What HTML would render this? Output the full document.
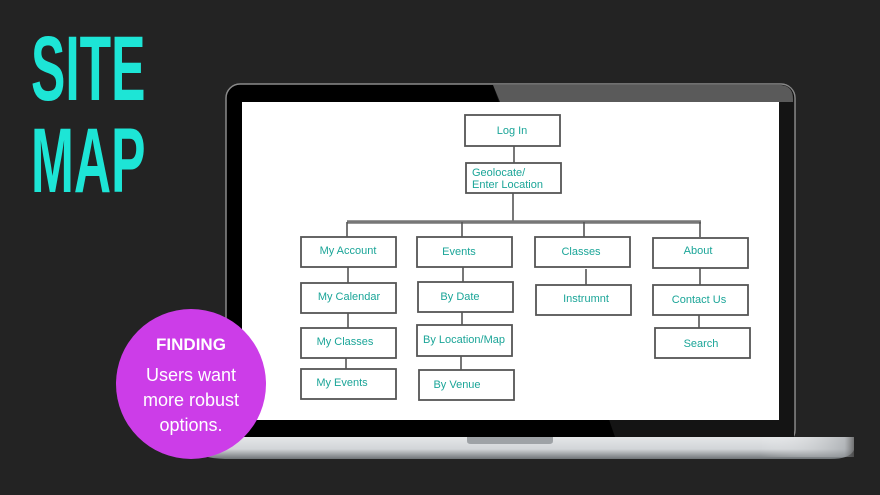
<!DOCTYPE html>
<html><head><meta charset="utf-8"><style>
html,body{margin:0;padding:0;background:#232323;}
svg{display:block}
</style></head><body>
<svg width="880" height="495" viewBox="0 0 880 495" xmlns="http://www.w3.org/2000/svg">
<defs>
<linearGradient id="base" x1="0" y1="0" x2="0" y2="1">
<stop offset="0" stop-color="#e4e6e8"/><stop offset="0.55" stop-color="#d2d5d8"/><stop offset="1" stop-color="#6f7477"/>
</linearGradient>
<linearGradient id="baseR" x1="0" y1="0" x2="1" y2="0">
<stop offset="0" stop-color="#fff" stop-opacity="0"/><stop offset="0.9" stop-color="#9a9ea2" stop-opacity="0.6"/><stop offset="1" stop-color="#555" stop-opacity="0.8"/>
</linearGradient>
</defs>
<rect width="880" height="495" fill="#232323"/>
<rect x="226" y="84" width="569" height="360" rx="14" fill="#000" stroke="#8a8a8a" stroke-width="1.5"/>
<path d="M493 85 L780 85 Q794 85 794 99 L794 437 L615 437 Z" fill="#141414"/>
<path d="M493 85 L781 85 Q793 86 793 99 L793 102 L500 102 Z" fill="#5a5a5a"/>
<rect x="242" y="102" width="537" height="318" fill="#fff"/>
<path d="M195 437 L854 437 L854 450 Q850 459 830 459 L225 459 Q200 458 195 450 Z" fill="url(#base)"/>
<rect x="760" y="437" width="94" height="20" fill="url(#baseR)"/>
<path d="M467 437 L553 437 L553 441 Q553 444 549 444 L471 444 Q467 444 467 441 Z" fill="#9ea2a6"/>
<g stroke="#555" stroke-width="1.6" fill="none">
<line x1="514" y1="146" x2="514" y2="163"/>
<line x1="513" y1="193" x2="513" y2="222"/>
<line x1="347" y1="222" x2="701" y2="222" stroke="#777" stroke-width="3.5"/>
<line x1="347" y1="222" x2="347" y2="237"/>
<line x1="462" y1="222" x2="462" y2="237"/>
<line x1="584" y1="222" x2="584" y2="237"/>
<line x1="700" y1="222" x2="700" y2="237"/>
<line x1="348" y1="267" x2="348" y2="283"/>
<line x1="348" y1="313" x2="348" y2="328"/>
<line x1="346" y1="358" x2="346" y2="369"/>
<line x1="463" y1="267" x2="463" y2="282"/>
<line x1="462" y1="312" x2="462" y2="325"/>
<line x1="461" y1="356" x2="461" y2="370"/>
<line x1="586" y1="269" x2="586" y2="285"/>
<line x1="700" y1="268" x2="700" y2="285"/>
<line x1="699" y1="315" x2="699" y2="328"/>
</g>
<g fill="#fff" stroke="#555" stroke-width="1.8">
<rect x="465" y="115" width="95" height="31"/>
<rect x="466" y="163" width="95" height="30"/>
<rect x="301" y="237" width="95" height="30"/>
<rect x="301" y="283" width="95" height="30"/>
<rect x="301" y="328" width="95" height="30"/>
<rect x="301" y="369" width="95" height="30"/>
<rect x="417" y="237" width="95" height="30"/>
<rect x="418" y="282" width="95" height="30"/>
<rect x="417" y="325" width="95" height="31"/>
<rect x="419" y="370" width="95" height="30"/>
<rect x="535" y="237" width="95" height="30"/>
<rect x="536" y="285" width="95" height="30"/>
<rect x="653" y="238" width="95" height="30"/>
<rect x="653" y="285" width="95" height="30"/>
<rect x="655" y="328" width="95" height="30"/>
</g>
<g font-family="Liberation Sans, sans-serif" font-size="11" fill="#1ba598" text-anchor="middle">
<text x="512" y="134">Log In</text>
<text x="472" y="176" text-anchor="start">Geolocate/</text>
<text x="472" y="188" text-anchor="start">Enter Location</text>
<text x="348" y="254">My Account</text>
<text x="349" y="300">My Calendar</text>
<text x="345" y="345">My Classes</text>
<text x="342" y="386">My Events</text>
<text x="459" y="255">Events</text>
<text x="460" y="300">By Date</text>
<text x="464" y="343">By Location/Map</text>
<text x="457" y="388">By Venue</text>
<text x="581" y="255">Classes</text>
<text x="586" y="302">Instrumnt</text>
<text x="698" y="254">About</text>
<text x="699" y="303">Contact Us</text>
<text x="701" y="347">Search</text>
</g>
<g font-family="Liberation Sans, sans-serif" font-weight="bold" font-size="92" fill="#1de5d6">
<text transform="translate(31,100) scale(0.56,1)">SITE</text>
<text transform="translate(31,192) scale(0.56,1)">MAP</text>
</g>
<circle cx="191" cy="384" r="75" fill="#cc3de8"/>
<g font-family="Liberation Sans, sans-serif" fill="#fff" text-anchor="middle">
<text x="191" y="350" font-size="17" font-weight="bold">FINDING</text>
<text x="191" y="381" font-size="18">Users want</text>
<text x="191" y="406" font-size="18">more robust</text>
<text x="191" y="431" font-size="18">options.</text>
</g>
</svg>
</body></html>
